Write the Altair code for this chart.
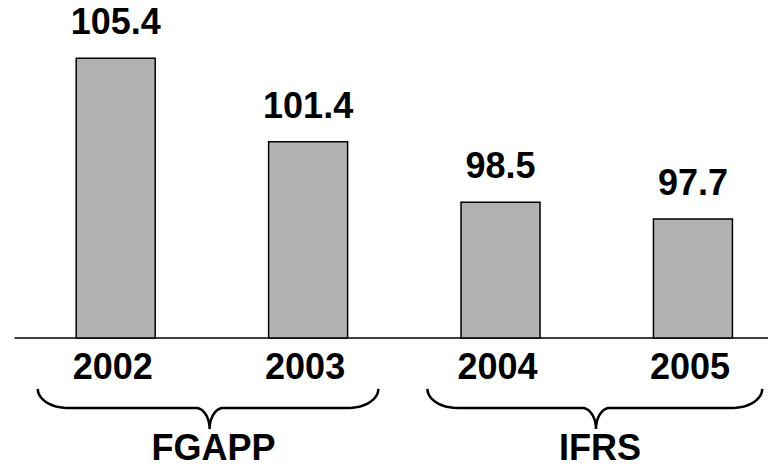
import altair as alt
import pandas as pd
import numpy as np

# ---- data ----
years = ["2002", "2003", "2004", "2005"]
values = [105.4, 101.4, 98.5, 97.7]
year_index = [0, 1, 2, 3]
group_names = ["FGAPP", "IFRS"]
# brace extents (in category-index units) for each group
brace_left = [-0.405, 1.62]
brace_right = [1.365, 3.36]
brace_tip = [0.488, 2.496]

BASE = 92
FONT = "Liberation Sans"
PLOT_W = 753.5
PLOT_H = 455

bars_df = pd.DataFrame({"year": years, "value": values, "idx": year_index,
                        "base": [BASE] * len(years)})
axis_df = pd.DataFrame({"base": [BASE]})

# ---- brace geometry (annotation only) ----
Y_TOP, Y_MID, Y_TIP = 89.56, 88.65, 87.64
RX, RTIP = 0.154, 0.072


def brace_points(x0, x1, xm, n=14):
    pts = []
    for t in np.linspace(0, np.pi / 2, n):
        pts.append((x0 + RX - RX * np.cos(t), Y_TOP - (Y_TOP - Y_MID) * np.sin(t)))
    for t in np.linspace(0, np.pi / 2, n):
        pts.append((xm - RTIP + RTIP * np.sin(t), Y_TIP + (Y_MID - Y_TIP) * np.cos(t)))
    for t in np.linspace(np.pi / 2, 0, n):
        pts.append((xm + RTIP - RTIP * np.sin(t), Y_TIP + (Y_MID - Y_TIP) * np.cos(t)))
    for t in np.linspace(np.pi / 2, 0, n):
        pts.append((x1 - RX + RX * np.cos(t), Y_TOP - (Y_TOP - Y_MID) * np.sin(t)))
    return pts


rows = []
for g, x0, x1, xm in zip(group_names, brace_left, brace_right, brace_tip):
    for k, (px, py) in enumerate(brace_points(x0, x1, xm)):
        rows.append({"g": g, "k": k, "bx": float(px), "by": float(py)})
brace_df = pd.DataFrame(rows)

groups_df = pd.DataFrame({
    "g": group_names,
    "mid": brace_tip,
    "tip": [Y_TIP] * len(group_names),
})

xscale = alt.Scale(domain=[-0.5, -0.5 + PLOT_W / 195.0], nice=False, zero=False)
yscale = alt.Scale(domain=[86.01, 107.81], nice=False, zero=False)

base = alt.Chart(bars_df)

bars = base.mark_bar(width=79, color="#b2b2b2", stroke="black", strokeWidth=1.5).encode(
    x=alt.X("idx:Q", scale=xscale, axis=None),
    y=alt.Y("value:Q", scale=yscale, axis=None),
    y2="base:Q",
)

value_labels = base.mark_text(
    font=FONT, fontSize=36, fontWeight="bold", baseline="alphabetic", dy=-24, color="black"
).encode(
    x=alt.X("idx:Q", scale=xscale, axis=None),
    y=alt.Y("value:Q", scale=yscale, axis=None),
    text="value:N",
)

year_labels = base.mark_text(
    font=FONT, fontSize=36, fontWeight="bold", baseline="alphabetic", dy=41, dx=-3, color="black"
).encode(
    x=alt.X("idx:Q", scale=xscale, axis=None),
    y=alt.Y("base:Q", scale=yscale, axis=None),
    text="year:N",
)

axis_line = alt.Chart(axis_df).mark_rule(color="black", strokeWidth=1.5).encode(
    x=alt.value(0), x2=alt.value(PLOT_W),
    y=alt.Y("base:Q", scale=yscale, axis=None),
)

braces = alt.Chart(brace_df).mark_line(color="black", strokeWidth=2.5).encode(
    x=alt.X("bx:Q", scale=xscale, axis=None),
    y=alt.Y("by:Q", scale=yscale, axis=None),
    detail="g:N",
    order="k:Q",
)

group_labels = alt.Chart(groups_df).mark_text(
    font=FONT, fontSize=36, fontWeight="bold", baseline="top", dy=3, dx=4, color="black"
).encode(
    x=alt.X("mid:Q", scale=xscale, axis=None),
    y=alt.Y("tip:Q", scale=yscale, axis=None),
    text="g:N",
)

chart = alt.layer(axis_line, bars, value_labels, year_labels, braces, group_labels).properties(
    width=PLOT_W,
    height=PLOT_H,
    autosize=alt.AutoSizeParams(type="none"),
    padding={"left": 6.5, "top": 0, "right": 0, "bottom": 0},
).configure_view(stroke=None)

chart.save("out.html", embed_options={"renderer": "svg", "actions": False})
